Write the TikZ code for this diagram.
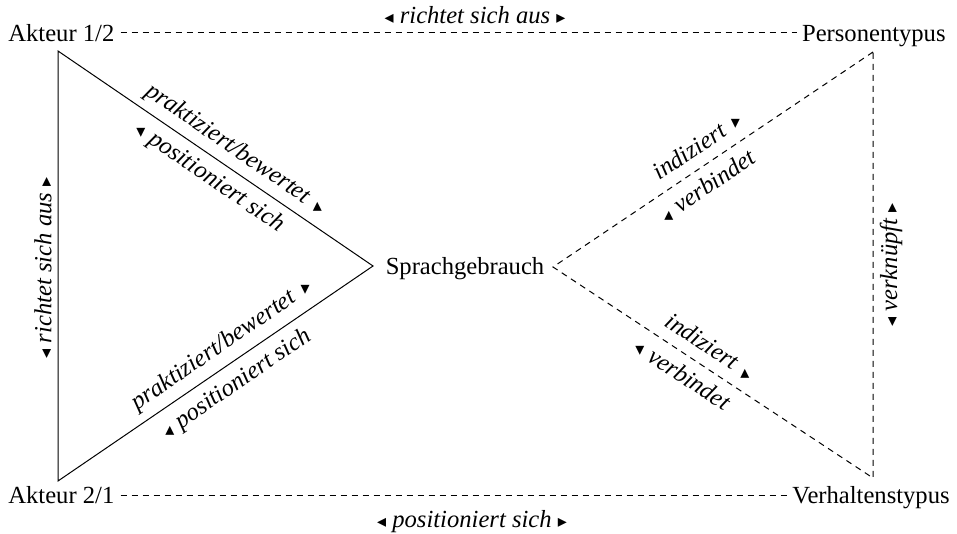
\documentclass[tikz,border=0pt]{standalone}
\usepackage{fontspec}
\usepackage{graphicx}
\setmainfont{Liberation Serif}[ItalicFont=Liberation Serif Italic]
\newfontfamily\symf{DejaVu Sans}
\usetikzlibrary{calc}
\newcommand{\trL}{{\symf\fontsize{9}{9}\selectfont ◂}}
\newcommand{\trR}{{\symf\fontsize{9}{9}\selectfont ▸}}
\newcommand{\trU}[1]{\rotatebox[origin=c]{#1}{\symf\fontsize{9}{9}\selectfont ▴}}
\newcommand{\trD}[1]{\rotatebox[origin=c]{#1}{\symf\fontsize{9}{9}\selectfont ▾}}
\begin{document}
\begin{tikzpicture}[x=0.5pt,y=-0.5pt,
  every node/.style={font=\fontsize{12.3}{14}\selectfont, inner sep=0pt},
  lab/.style={font=\fontsize{12.3}{14}\selectfont\itshape},
  edge/.style={line width=0.5pt},
  dedge/.style={line width=0.5pt, dash pattern=on 3pt off 2.5pt}]
\useasboundingbox (0,0) rectangle (957,534);
% corner and centre terms
\node[anchor=base west] (a12) at (8,42) {Akteur 1/2};
\node[anchor=base east] (pt) at (946,42) {Personentypus};
\node[anchor=base west] (a21) at (8,503) {Akteur 2/1};
\node[anchor=base east] (vt) at (950,503) {Verhaltenstypus};
\node[anchor=base] (sg) at (465,274) {Sprachgebrauch};
% triangle corners
\coordinate (L1) at (58,51);
\coordinate (L2) at (58,481);
\coordinate (LS) at (373,266);
\coordinate (RS) at (553,267);
\coordinate (R1) at (873,52);
\coordinate (R2) at (873,478);
\draw[edge] (L1) -- (LS) -- (L2) -- cycle;
\draw[dedge] (R1) -- (RS) -- (R2) -- cycle;
% horizontal dashed lines
\draw[dedge] ($(a12.base east)+(6,-9)$) -- ($(pt.base west)+(-5,-9)$);
\draw[dedge] ($(a21.base east)+(6,-8)$) -- ($(vt.base west)+(-5,-8)$);
% horizontal labels
\node[lab] (ltop) at (475,15) {\trL\ richtet sich aus \trR};
\node[lab, anchor=base] (lbot) at (472,527) {\trL\ positioniert sich \trR};
% vertical labels
\node[lab, rotate=90] (lleft) at (43,268) {\trL\ richtet sich aus \trR};
\node[lab, rotate=90] (lright) at (891,265) {\trL\ verknüpft \trR};
% left triangle labels
\path (L1) -- (LS)
  node[lab, sloped, above=3.5pt, pos=0.53] (lu1) {praktiziert/bewertet \trU{34.3}}
  node[lab, sloped, below=4pt, pos=0.515] (lu2) {\trD{34.3}\,positioniert sich};
\path (L2) -- (LS)
  node[lab, sloped, above=4pt, pos=0.555] (ll1) {praktiziert/bewertet \trD{-34.3}}
  node[lab, sloped, below=4.5pt, pos=0.53] (ll2) {\trU{-34.3}\,positioniert sich};
% right triangle labels
\path (RS) -- (R1)
  node[lab, sloped, above=5pt, pos=0.485] (ru1) {indiziert \trD{-33.9}}
  node[lab, sloped, below=4.5pt, pos=0.45] (ru2) {\trU{-33.9}\,verbindet};
\path (RS) -- (R2)
  node[lab, sloped, above=5pt, pos=0.456] (rl1) {indiziert \trU{33.4}}
  node[lab, sloped, below=4.5pt, pos=0.436] (rl2) {\trD{33.4}\,verbindet};
\end{tikzpicture}
\end{document}
